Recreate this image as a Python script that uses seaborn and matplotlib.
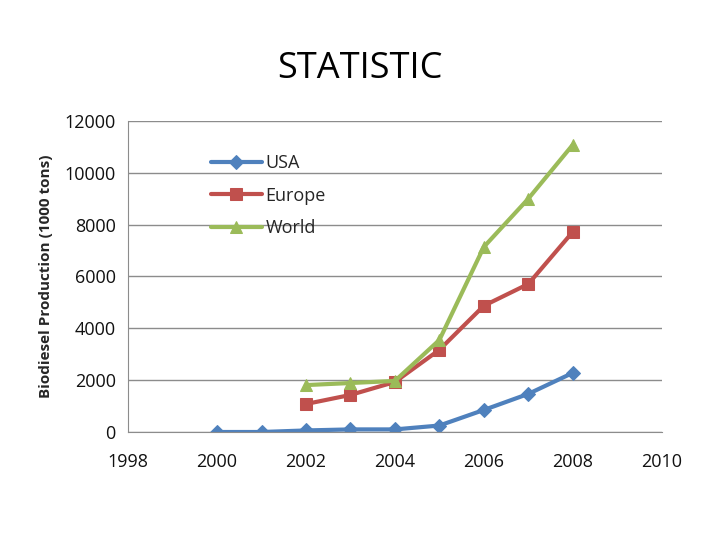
import numpy as np
import pandas as pd
import matplotlib
matplotlib.use("Agg")
import matplotlib.pyplot as plt
import seaborn as sns

# ── data ──────────────────────────────────────────
years_usa = [2000, 2001, 2002, 2003, 2004, 2005, 2006, 2007, 2008]
usa = [0, 0, 60, 100, 100, 250, 850, 1470, 2280]
years_eu = [2002, 2003, 2004, 2005, 2006, 2007, 2008]
europe = [1080, 1430, 1930, 3170, 4870, 5710, 7720]
world = [1810, 1890, 1970, 3550, 7140, 9000, 11080]

df = pd.concat([
    pd.DataFrame({"year": years_usa, "value": usa, "series": "USA"}),
    pd.DataFrame({"year": years_eu, "value": europe, "series": "Europe"}),
    pd.DataFrame({"year": years_eu, "value": world, "series": "World"}),
])

sns.set_style("white")
plt.rcParams["font.family"] = ["Open Sans", "DejaVu Sans"]

palette = {"USA": "#4F81BD", "Europe": "#C0504D", "World": "#9BBB59"}
markers = {"USA": "D", "Europe": "s", "World": "^"}
sizes = {"USA": 7, "Europe": 9, "World": 9}

fig = plt.figure(figsize=(7.2, 5.4), dpi=100)
ax = fig.add_axes([0.178, 0.2, 0.741, 0.576])

for name in ["USA", "Europe", "World"]:
    sub = df[df["series"] == name]
    sns.lineplot(data=sub, x="year", y="value", ax=ax, color=palette[name],
                 marker=markers[name], markersize=sizes[name], linewidth=3,
                 markeredgecolor=palette[name], label=name)

ax.set_xlim(1998, 2010)
ax.set_ylim(0, 12000)
ax.set_xticks(range(1998, 2011, 2))
ax.set_yticks(range(0, 12001, 2000))
ax.grid(axis="y", color="#8c8c8c", linewidth=1)
ax.set_axisbelow(True)
for s in ["top", "right"]:
    ax.spines[s].set_visible(False)
for s in ["left", "bottom"]:
    ax.spines[s].set_color("#8c8c8c")
ax.tick_params(axis="both", direction="out", length=5, color="#8c8c8c",
               labelsize=13, labelcolor="#111111")
ax.tick_params(axis="x", pad=10)
ax.tick_params(axis="y", pad=4)
ax.set_xlabel("")
ax.set_ylabel("Biodiesel Production (1000 tons)", fontsize=11, fontweight="bold",
              labelpad=8)

leg = ax.legend(loc="upper left", bbox_to_anchor=(0.125, 0.945), frameon=False,
                fontsize=13, handlelength=2.8, handletextpad=0.2, labelspacing=0.8)

fig.text(0.5, 0.872, "STATISTIC", ha="center", va="center", fontsize=26,
         color="black")

plt.savefig("out.png", dpi=100, facecolor="white")
